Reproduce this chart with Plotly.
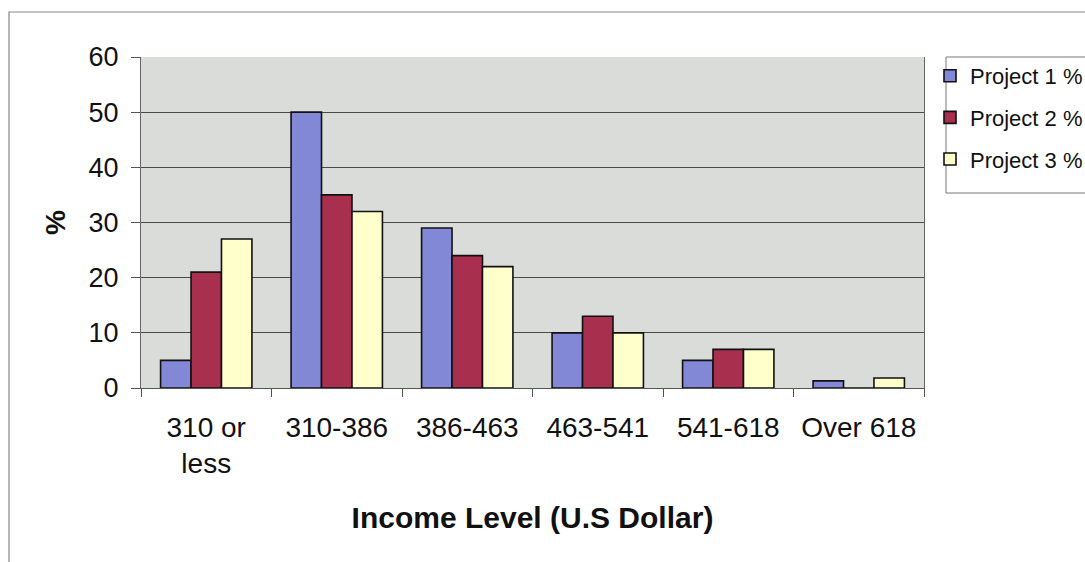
import plotly.graph_objects as go

# Income brackets (U.S. dollars) and the share of households in each, per project
income_levels = ["310 or<br>less", "310-386", "386-463", "463-541", "541-618", "Over 618"]
project_1 = [5, 50, 29, 10, 5, 1.3]
project_2 = [21, 35, 24, 13, 7, 0]
project_3 = [27, 32, 22, 10, 7, 1.8]
series_names = ["Project 1 %", "Project 2 %", "Project 3 %"]
series_colors = ["#8288d6", "#a8304e", "#ffffcc"]

# plot-area geometry in pixels
W, H = 1085, 562
L, R, T, B = 141, 924, 57, 388

fig = go.Figure()
for i, (name, vals, col) in enumerate(zip(series_names, [project_1, project_2, project_3], series_colors)):
    fig.add_trace(go.Bar(
        x=income_levels, y=vals, name=name, legendgroup=f"g{i}",
        marker=dict(color=col, line=dict(color="#111111", width=1.6)),
    ))

def px_x(p):
    return (p - L) / (R - L)

def px_y(p):
    return (B - p) / (B - T)

fig.update_layout(
    width=W, height=H,
    margin=dict(l=L, r=W - R, t=T, b=H - B, pad=0, autoexpand=False),
    paper_bgcolor="white",
    plot_bgcolor="#d9dcd8",
    barmode="group", bargap=0.3, bargroupgap=0,
    font=dict(family="Liberation Sans, Arial, sans-serif", color="#111111"),
    showlegend=True,
    legend=dict(
        x=px_x(930), y=px_y(55), xanchor="left", yanchor="top",
        bgcolor="rgba(0,0,0,0)", borderwidth=0,
        font=dict(size=22, color="#111111"),
        tracegroupgap=10, itemwidth=30,
    ),
    xaxis=dict(
        tickson="boundaries", ticks="outside", ticklen=8, tickcolor="#555555",
        showline=True, linecolor="#555555", linewidth=1,
        tickfont=dict(size=28), showgrid=False, ticklabelstandoff=14,
        title=dict(text="<b>Income Level (U.S Dollar)</b>", font=dict(size=30), standoff=28),
    ),
    yaxis=dict(
        range=[0, 60], dtick=10, ticks="outside", ticklen=9, tickcolor="#555555",
        showline=True, linecolor="#666666", linewidth=1, mirror=True,
        gridcolor="#4a4a4a", gridwidth=1, zeroline=False,
        tickfont=dict(size=27), ticklabelstandoff=7,
        title=dict(text="<b>%</b>", font=dict(size=28), standoff=14),
    ),
    shapes=[
        # outer chart border
        dict(type="rect", xref="paper", yref="paper",
             x0=px_x(9), x1=px_x(1100), y0=px_y(575), y1=px_y(12),
             line=dict(color="#888888", width=1.2), fillcolor="rgba(0,0,0,0)", layer="below"),
        # legend frame
        dict(type="rect", xref="paper", yref="paper",
             x0=px_x(946), x1=px_x(1100), y0=px_y(193), y1=px_y(57),
             line=dict(color="#777777", width=1), fillcolor="white", layer="below"),
    ],
)

fig.write_html("out.html")
